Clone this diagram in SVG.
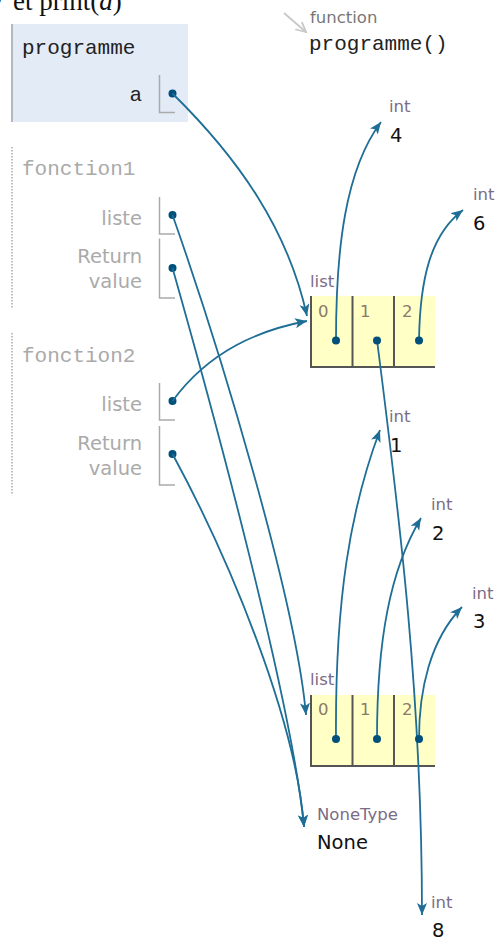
<svg xmlns="http://www.w3.org/2000/svg" width="497" height="940" viewBox="0 0 497 940">
<style>
.mono{font-family:"Liberation Mono","Courier New",monospace;font-size:21px}
.var{font-family:"DejaVu Sans",Verdana,sans-serif;font-size:19.5px;text-anchor:end}
.typ{font-family:"DejaVu Sans",Verdana,sans-serif;font-size:16.5px;fill:#7a6c86}
.val{font-family:"DejaVu Sans",Verdana,sans-serif;font-size:19.5px;fill:#111}
.idx{font-family:"DejaVu Sans",Verdana,sans-serif;font-size:16.5px;fill:#8a7a6a}
.brk{fill:none;stroke:#aaaaaa;stroke-width:1.5}
.dot{fill:#00507b}
.cell{fill:#ffffc6}
.cb{stroke:#555;stroke-width:2;fill:none}
.edge{fill:none;stroke:#1f6e96;stroke-width:1.8;marker-end:url(#ah)}
.dots{stroke:#aaa;stroke-width:1.5;stroke-dasharray:1.5,1.5}
</style>
<defs>
<marker id="ah" markerUnits="userSpaceOnUse" markerWidth="14" markerHeight="12" refX="12" refY="5" orient="auto">
<path d="M0,0 L12,5 L0,10 L3,5 z" fill="#1f6e96"/>
</marker>
<marker id="gh" markerUnits="userSpaceOnUse" markerWidth="14" markerHeight="12" refX="10" refY="5" orient="auto">
<path d="M0,0 L10,5 L0,10" fill="none" stroke="#c8c8c8" stroke-width="1.8"/>
</marker>
</defs>

<text x="13" y="10" font-family="Liberation Serif,'Times New Roman',serif" font-size="27" fill="#111">et print(<tspan font-style="italic">a</tspan>)</text>
<text x="-4" y="10" font-family="Liberation Serif,'Times New Roman',serif" font-size="27" fill="#111">/</text>

<g id="frame-programme">
<rect x="11" y="24" width="177" height="98" fill="#e2ebf6"/>
<line x1="12" y1="24" x2="12" y2="122" stroke="#b4b9bf" stroke-width="2"/>
<text class="mono" x="22" y="54" fill="#222">programme</text>
<text class="mono" x="142" y="101" fill="#222" text-anchor="end">a</text>
<path class="brk" d="M159.5,75 V112.5 H175"/>
<circle class="dot" cx="172.5" cy="93.5" r="4"/>
</g>

<g id="function-label">
<line x1="284" y1="13" x2="306" y2="32" stroke="#c8c8c8" stroke-width="1.8" marker-end="url(#gh)"/>
<text x="310" y="23" font-family="DejaVu Sans,Verdana,sans-serif" font-size="16.5" fill="#777">function</text>
<text class="mono" x="309" y="50" fill="#222">programme()</text>
</g>

<g id="frame-fonction1">
<line class="dots" x1="12" y1="147" x2="12" y2="308"/>
<text class="mono" x="22" y="175" fill="#aaa">fonction1</text>
<text class="var" x="142" y="225" fill="#aaa">liste</text>
<path class="brk" d="M159.5,197 V234 H175"/>
<circle class="dot" cx="172.5" cy="215" r="4"/>
<text class="var" x="142" y="263" fill="#aaa">Return</text>
<text class="var" x="142" y="288" fill="#aaa">value</text>
<path class="brk" d="M159.5,238.5 V298 H175"/>
<circle class="dot" cx="172.5" cy="268" r="4"/>
</g>

<g id="frame-fonction2">
<line class="dots" x1="12" y1="333" x2="12" y2="495"/>
<text class="mono" x="22" y="362" fill="#aaa">fonction2</text>
<text class="var" x="142" y="411" fill="#aaa">liste</text>
<path class="brk" d="M159.5,383 V420 H175"/>
<circle class="dot" cx="172.5" cy="401" r="4"/>
<text class="var" x="142" y="450" fill="#aaa">Return</text>
<text class="var" x="142" y="475" fill="#aaa">value</text>
<path class="brk" d="M159.5,426 V485 H175"/>
<circle class="dot" cx="172.5" cy="454" r="4"/>
</g>

<g id="list1">
<text class="typ" x="310" y="287">list</text>
<rect class="cell" x="311" y="296" width="124" height="71"/>
<path class="cb" d="M311,296 V367 H435"/>
<line class="cb" x1="352.5" y1="296" x2="352.5" y2="367"/>
<line class="cb" x1="394" y1="296" x2="394" y2="367"/>
<text class="idx" x="318" y="317">0</text>
<text class="idx" x="360" y="317">1</text>
<text class="idx" x="402" y="317">2</text>
</g>

<g id="list2">
<text class="typ" x="310" y="685">list</text>
<rect class="cell" x="311" y="695" width="124" height="71"/>
<path class="cb" d="M311,695 V766 H435"/>
<line class="cb" x1="352.5" y1="695" x2="352.5" y2="766"/>
<line class="cb" x1="394" y1="695" x2="394" y2="766"/>
<text class="idx" x="318" y="715">0</text>
<text class="idx" x="360" y="715">1</text>
<text class="idx" x="402" y="715">2</text>
</g>

<g id="int4"><text class="typ" x="389" y="112">int</text><text class="val" x="390" y="142">4</text></g>
<g id="int6"><text class="typ" x="473" y="200">int</text><text class="val" x="473" y="230">6</text></g>
<g id="int1"><text class="typ" x="389" y="422">int</text><text class="val" x="390" y="452">1</text></g>
<g id="int2"><text class="typ" x="431" y="510">int</text><text class="val" x="432" y="540">2</text></g>
<g id="int3"><text class="typ" x="472" y="599">int</text><text class="val" x="473" y="628">3</text></g>
<g id="none"><text class="typ" x="317" y="820">NoneType</text><text class="val" x="317" y="849">None</text></g>
<g id="int8"><text class="typ" x="431" y="908">int</text><text class="val" x="432" y="937">8</text></g>

<g id="connectors">
<path class="edge" d="M172.5,93.5 C240,160 288,230 307,316"/>
<path class="edge" d="M172.5,401 C210,350 260,330 307,321"/>
<path class="edge" d="M172.5,215 C220,350 296,600 306,715"/>
<path class="edge" d="M172.5,268 C210,400 292,700 304,827"/>
<path class="edge" d="M172.5,454 C230,560 296,720 304,827"/>
<path class="edge" d="M377,340 C400,520 422,700 422,915"/>
<path class="edge" d="M336,340 C336,250 345,170 381,122"/>
<path class="edge" d="M419,340 C420,280 430,235 463,210"/>
<path class="edge" d="M336,739 C335,600 350,510 380,430"/>
<path class="edge" d="M377,739 C377,640 390,570 421,518"/>
<path class="edge" d="M419,739 C419,690 430,640 462,607"/>
</g>
<g id="ref-dots">
<circle class="dot" cx="336" cy="340.5" r="4"/>
<circle class="dot" cx="377" cy="340.5" r="4"/>
<circle class="dot" cx="419" cy="340.5" r="4"/>
<circle class="dot" cx="336" cy="739" r="4"/>
<circle class="dot" cx="377" cy="739" r="4"/>
<circle class="dot" cx="419" cy="739" r="4"/>
</g>
</svg>
